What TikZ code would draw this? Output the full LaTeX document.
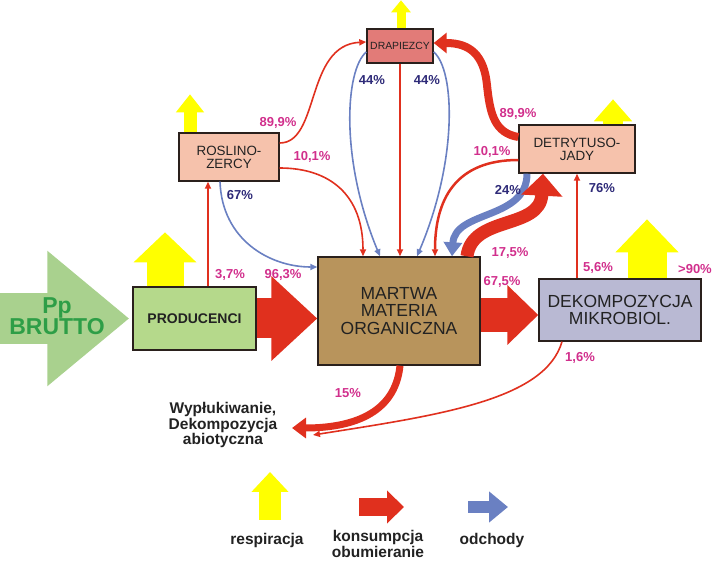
\documentclass[tikz,border=0pt]{standalone}
\usepackage{fontspec}
\setmainfont{Liberation Sans}
\usetikzlibrary{arrows.meta}
\definecolor{mred}{HTML}{E0301E}
\definecolor{mblue}{HTML}{6A80C2}
\definecolor{myel}{HTML}{FFFF00}
\definecolor{mpink}{HTML}{D12F8C}
\definecolor{mnavy}{HTML}{2E2A78}
\definecolor{mline}{HTML}{2A201C}
\definecolor{mtext}{HTML}{222222}
\definecolor{fgreen}{HTML}{A9D18E}
\definecolor{tgreen}{HTML}{2E9E47}
\definecolor{fprod}{HTML}{B5D98B}
\definecolor{fmart}{HTML}{B8945C}
\definecolor{fdek}{HTML}{B9B9D3}
\definecolor{fsal}{HTML}{F6C2AC}
\definecolor{fdrap}{HTML}{E27B78}
\tikzset{bx/.style = {draw=mline, line width=1.4pt, inner sep=0pt, align=center, text=mtext},
           pk/.style = {text=mpink, font=\bfseries\fontsize{13}{15}\selectfont},
           nv/.style = {text=mnavy, font=\bfseries\fontsize{13}{15}\selectfont},
           rt/.style = {draw=mred, line width=1.6pt, -{Triangle[length=7pt,width=6pt]}},
           bt/.style = {draw=mblue, line width=1.6pt, -{Triangle[length=7pt,width=6pt]}},
           fat/.style n args = {4}{draw=#1, line width=#2, -{Triangle[length=#4,width=#3]}},
           lg/.style = {text=mtext, align=center, font=\bfseries\fontsize{15.5}{13.5}\selectfont}}

\begin{document}
\begin{tikzpicture}[x=1pt, y=-1pt]
    \useasboundingbox (0,0) rectangle (713,561);
    \node[bx, fill=fprod, minimum width=123pt, minimum height=63pt, font=\bfseries\fontsize{14}{16}\selectfont] (prod) at (194.5,318.5) {PRODUCENCI};
    \node[bx, fill=fmart, minimum width=162pt, minimum height=108pt, font=\fontsize{17.5}{17.5}\selectfont] (mart) at (399,311) {MARTWA\\MATERIA\\ORGANICZNA};
    \node[bx, fill=fdek, minimum width=162pt, minimum height=62pt, font=\fontsize{17.5}{17}\selectfont] (dek) at (620,310) {DEKOMPOZYCJA\\MIKROBIOL.};
    \node[bx, fill=fsal, minimum width=100pt, minimum height=48pt, font=\fontsize{13.4}{13}\selectfont] (ros) at (229,157) {ROSLINO-\\ZERCY};
    \node[bx, fill=fsal, minimum width=116pt, minimum height=48pt, font=\fontsize{13.4}{13}\selectfont] (det) at (577,149) {DETRYTUSO-\\JADY};
    \node[bx, fill=fdrap, minimum width=66pt, minimum height=34pt, font=\fontsize{10.4}{12}\selectfont] (drap) at (400,46) {DRAPIEZCY};
    \node[lg] (wyp) at (223,425) {Wyp\l{}ukiwanie,\\Dekompozycja\\abiotyczna};
    \coordinate (w1) at (292,428);
    \coordinate (w2) at (313,435);
    \coordinate (src) at (0,318.5);
    \coordinate (m1) at ([yshift=-4pt]mart.east);
    % wejscie
    \draw[fat={fgreen}{51pt}{130pt}{82pt}, shorten >=3pt] (src) -- (prod.west);
    \node[text=tgreen, align=center, font=\bfseries\fontsize{23}{21}\selectfont] (pp) at (57,316) {Pp\\BRUTTO};
    % respiracja
    \draw[fat={myel}{37pt}{61pt}{30pt}] ([xshift=-29.5pt]prod.north) -- ++(0,-54);
    \draw[fat={myel}{39pt}{61pt}{33pt}] ([xshift=27pt]dek.north) -- ++(0,-59);
    \draw[fat={myel}{13pt}{27pt}{18pt}] ([xshift=-39pt]ros.north) -- ++(0,-38);
    \draw[fat={myel}{9pt}{19pt}{12pt}] ([xshift=1pt]drap.north) -- ++(0,-28);
    \draw[fat={myel}{20pt}{37pt}{22pt}] ([xshift=36pt]det.north) -- ++(0,-25);
    % przeplywy
    \draw[fat={mred}{40pt}{82pt}{46pt}] (prod.east) -- (prod.east -| mart.west);
    \draw[fat={mred}{34pt}{58pt}{31pt}] (m1) -- (m1 -| dek.west);
    \draw[rt] ([xshift=13.5pt]prod.north) -- ([xshift=-21pt]ros.south);
    \draw[rt] ([yshift=14pt]ros.east) .. controls (320,143) and (305,45) .. ([yshift=4pt]drap.west);
    \draw[rt] ([yshift=-11pt]ros.east) .. controls (330,168) and (363,195) .. ([xshift=-36pt]mart.north);
    \draw[bt] ([xshift=-9pt]ros.south) .. controls (222,240) and (270,267) .. ([yshift=44pt]mart.west);
    \draw[rt, line width=2.5pt] (drap.south) -- (drap.south |- mart.north);
    \draw[bt] ([yshift=-6pt]drap.west) .. controls (345,70) and (340,160) .. ([xshift=-19pt]mart.north);
    \draw[bt] ([yshift=-6pt]drap.east) .. controls (455,70) and (458,160) .. ([xshift=18pt]mart.north);
    \draw[fat={mred}{8pt}{20pt}{13pt}] ([yshift=12pt]det.west) .. controls (495,133) and (490,115) .. (487,85) .. controls (484,55) and (470,43) .. ([yshift=3pt]drap.east);
    \draw[rt, line width=2.5pt] ([yshift=-11pt]det.west) .. controls (455,160) and (435,200) .. ([xshift=36pt]mart.north);
    \draw[fat={mblue}{7pt}{18pt}{14pt}] ([xshift=-50pt]det.south) .. controls (527,220) and (455,210) .. ([xshift=53pt]mart.north);
    \draw[fat={mred}{13pt}{40pt}{22pt}] ([xshift=68pt]mart.north) .. controls (472,215) and (540,230) .. ([xshift=-34pt]det.south);
    \draw[rt] ([xshift=-43pt]dek.north) -- (det.south);
    \draw[rt] ([xshift=-58pt]dek.south) .. controls (545,400) and (440,415) .. (w2);
    \draw[fat={mred}{7pt}{20pt}{14pt}] ([xshift=1pt]mart.south) .. controls (395,415) and (350,428) .. (w1);
    % etykiety
    \node[pk] (p37) at (230,275) {3,7\%};
    \node[pk] (p963) at (283,275) {96,3\%};
    \node[pk] (p899a) at (278,123) {89,9\%};
    \node[pk] (p101a) at (312,157) {10,1\%};
    \node[nv] (p67) at (240,195) {67\%};
    \node[nv] (p44a) at (372,80) {44\%};
    \node[nv] (p44b) at (427,80) {44\%};
    \node[pk] (p899b) at (518,114) {89,9\%};
    \node[pk] (p101b) at (492,152) {10,1\%};
    \node[nv] (p24) at (508,190) {24\%};
    \node[nv] (p76) at (602,188) {76\%};
    \node[pk] (p175) at (510,253) {17,5\%};
    \node[pk] (p675) at (502,282) {67,5\%};
    \node[pk] (p56) at (598,268) {5,6\%};
    \node[pk] (p90) at (695,269) {>90\%};
    \node[pk] (p16) at (580,358) {1,6\%};
    \node[pk] (p15) at (348,393) {15\%};
    % legenda
    \coordinate (ly) at (270,520);
    \coordinate (lr) at (359,507);
    \coordinate (lb) at (468,507);
    \draw[fat={myel}{22pt}{36pt}{20pt}] (ly) -- ++(0,-48);
    \draw[fat={mred}{18pt}{32pt}{17pt}] (lr) -- ++(45,0);
    \draw[fat={mblue}{12pt}{30pt}{19pt}] (lb) -- ++(40,0);
    \node[lg] (lyt) at (267,540) {respiracja};
    \node[lg] (lrt) at (378,544) {konsumpcja\\obumieranie};
    \node[lg] (lbt) at (492,540) {odchody};
\end{tikzpicture}
\end{document}
